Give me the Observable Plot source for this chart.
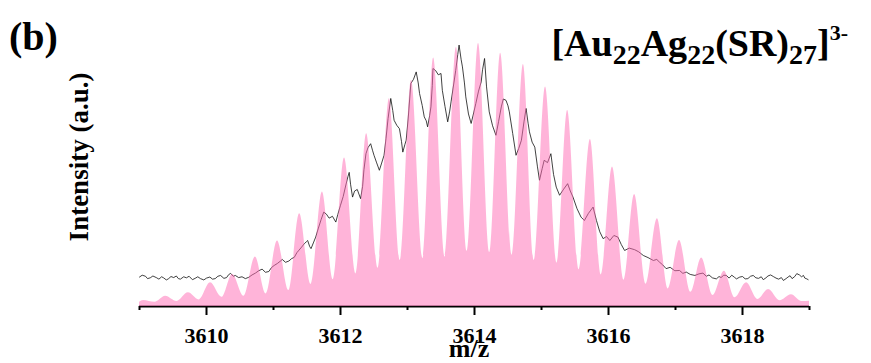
<!DOCTYPE html>
<html><head><meta charset="utf-8">
<script src="https://cdn.jsdelivr.net/npm/d3@7"></script>
<script src="https://cdn.jsdelivr.net/npm/@observablehq/plot@0.6"></script>
<style>
body{margin:0;background:#fff;}
#chart{position:relative;width:871px;height:363px;overflow:hidden;}
</style></head><body><div id="chart"></div>
<script>
// Simulated isotope pattern: peak tops
const peakMz = [3609.06,3609.39,3609.73,3610.06,3610.39,3610.73,3611.06,3611.39,3611.73,3612.06,3612.39,3612.73,3613.06,3613.39,3613.73,3614.06,3614.39,3614.73,3615.06,3615.39,3615.73,3616.06,3616.39,3616.73,3617.06,3617.39,3617.73,3618.06,3618.39,3618.73];
const peakInt = [2.3,3.9,5.2,9.0,12.2,18.8,24.9,35.3,43.5,56.5,65.7,79.0,86.0,94.5,98.5,100,96.3,92.0,83.5,74.5,63.5,53.0,42.6,33.4,25.1,18.4,13.4,9.0,6.5,4.5];
// Simulated isotope pattern: valleys (and ends)
const valleyMz = [3609.00,3609.23,3609.56,3609.89,3610.23,3610.56,3610.89,3611.23,3611.56,3611.89,3612.23,3612.56,3612.89,3613.23,3613.56,3613.89,3614.23,3614.56,3614.89,3615.23,3615.56,3615.89,3616.23,3616.56,3616.89,3617.23,3617.56,3617.89,3618.23,3618.56,3618.89,3619.00];
const valleyInt = [1.6,1.6,1.9,2.5,3.5,3.9,4.8,6.1,8.4,10.2,12.4,14.5,17.5,18.2,18.8,21.0,20.5,19.5,17.5,16.5,14.0,12.0,10.0,8.5,6.7,5.4,4.2,3.3,2.7,2.2,1.9,2.0];
// Experimental spectrum [m/z, intensity]
const expPoints = [
[3609.00,11.2],[3609.04,11.9],[3609.09,11.5],[3609.12,10.6],[3609.16,10.9],[3609.20,11.6],[3609.25,11.0],[3609.29,10.4],[3609.33,11.3],[3609.36,10.9],
[3609.40,10.1],[3609.43,10.5],[3609.47,11.4],[3609.51,11.0],[3609.55,11.6],[3609.58,10.6],[3609.61,10.4],[3609.66,11.3],[3609.70,10.9],[3609.74,11.5],
[3609.79,10.2],[3609.83,10.7],[3609.87,11.3],[3609.91,10.6],[3609.96,10.1],[3610.00,10.8],[3610.05,11.2],[3610.09,10.4],[3610.13,10.6],[3610.17,11.5],
[3610.21,11.8],[3610.26,10.7],[3610.30,11.0],[3610.33,12.1],[3610.36,12.6],[3610.40,11.5],[3610.43,11.8],[3610.48,11.0],[3610.53,11.3],[3610.58,10.6],
[3610.63,11.1],[3610.68,12.0],[3610.73,12.7],[3610.78,13.6],[3610.83,14.2],[3610.88,13.0],[3610.93,13.3],[3610.97,14.8],[3611.01,15.6],[3611.06,16.4],
[3611.10,17.2],[3611.13,17.9],[3611.18,16.8],[3611.23,17.3],[3611.27,18.2],[3611.31,18.7],[3611.35,20.5],[3611.38,21.4],[3611.42,22.6],[3611.46,23.9],
[3611.49,24.6],[3611.51,25.1],[3611.54,22.8],[3611.56,22.0],[3611.60,24.5],[3611.63,26.4],[3611.67,29.8],[3611.71,33.0],[3611.75,35.9],[3611.79,35.1],
[3611.83,33.6],[3611.88,34.3],[3611.93,32.1],[3611.96,35.0],[3612.00,38.5],[3612.04,41.8],[3612.08,46.2],[3612.11,49.3],[3612.13,51.0],[3612.15,46.5],
[3612.18,41.6],[3612.21,43.9],[3612.25,44.5],[3612.28,42.4],[3612.30,41.0],[3612.33,45.7],[3612.35,52.0],[3612.38,58.1],[3612.41,60.4],[3612.45,61.9],
[3612.48,59.2],[3612.50,57.5],[3612.54,54.6],[3612.58,51.8],[3612.61,54.2],[3612.65,57.5],[3612.68,64.0],[3612.71,71.5],[3612.75,79.1],[3612.78,74.5],
[3612.80,70.8],[3612.84,68.9],[3612.88,67.6],[3612.91,62.8],[3612.93,58.7],[3612.96,61.5],[3612.98,63.2],[3613.01,71.3],[3613.05,84.8],[3613.09,86.4],
[3613.13,89.2],[3613.16,85.0],[3613.18,81.0],[3613.22,76.4],[3613.25,72.1],[3613.28,70.6],[3613.30,68.3],[3613.33,72.5],[3613.35,75.9],[3613.37,84.0],
[3613.38,90.5],[3613.42,89.7],[3613.46,88.1],[3613.50,88.6],[3613.52,82.2],[3613.56,76.0],[3613.60,70.2],[3613.63,74.3],[3613.65,77.8],[3613.69,84.6],
[3613.72,89.8],[3613.75,95.8],[3613.77,99.4],[3613.80,94.0],[3613.82,91.1],[3613.85,85.0],[3613.87,79.7],[3613.91,73.2],[3613.95,69.6],[3613.98,72.8],
[3614.02,77.2],[3614.06,81.9],[3614.10,85.4],[3614.12,90.0],[3614.15,94.3],[3614.18,83.5],[3614.22,74.0],[3614.27,68.7],[3614.32,65.1],[3614.36,70.4],
[3614.40,75.9],[3614.43,78.9],[3614.47,78.4],[3614.50,76.3],[3614.52,74.0],[3614.57,65.8],[3614.62,57.5],[3614.66,60.1],[3614.70,63.2],[3614.74,70.5],
[3614.77,75.3],[3614.80,69.7],[3614.82,66.4],[3614.86,62.5],[3614.90,60.6],[3614.94,53.1],[3614.97,48.0],[3615.01,52.4],[3615.04,55.6],[3615.09,54.7],
[3615.14,58.1],[3615.18,50.2],[3615.22,45.4],[3615.27,42.3],[3615.33,44.6],[3615.39,46.7],[3615.43,43.9],[3615.47,41.6],[3615.53,37.2],[3615.59,34.0],
[3615.64,32.7],[3615.70,35.4],[3615.77,37.8],[3615.82,32.7],[3615.87,28.4],[3615.92,25.8],[3615.97,26.6],[3616.02,25.1],[3616.08,27.0],[3616.14,26.4],
[3616.19,23.6],[3616.24,21.3],[3616.31,22.2],[3616.39,21.6],[3616.45,20.8],[3616.52,19.4],[3616.59,18.6],[3616.67,17.5],[3616.72,17.9],[3616.76,16.9],
[3616.81,15.8],[3616.86,14.4],[3616.92,14.9],[3616.99,13.6],[3617.06,13.7],[3617.11,12.6],[3617.16,13.1],[3617.22,12.2],[3617.29,11.8],[3617.35,12.4],
[3617.41,12.7],[3617.46,11.5],[3617.50,12.0],[3617.55,10.9],[3617.61,10.5],[3617.65,11.4],[3617.68,11.0],[3617.72,11.9],[3617.76,11.8],[3617.80,10.8],
[3617.84,11.9],[3617.88,11.1],[3617.91,10.5],[3617.96,11.2],[3618.00,11.4],[3618.04,10.5],[3618.08,10.6],[3618.12,11.5],[3618.16,11.8],[3618.20,10.9],
[3618.24,10.7],[3618.28,11.3],[3618.31,10.2],[3618.35,10.9],[3618.38,11.6],[3618.42,12.0],[3618.46,11.4],[3618.50,10.8],[3618.54,10.4],[3618.58,11.0],
[3618.61,9.9],[3618.65,10.6],[3618.68,11.2],[3618.71,11.7],[3618.74,10.6],[3618.78,11.4],[3618.81,12.5],[3618.85,12.0],[3618.88,11.3],[3618.91,11.8],
[3618.93,10.8],[3618.96,10.5],[3618.98,10.2]
];
// Axis ticks
const majorTicks = [3610,3612,3614,3616,3618];
const minorTicks = [3609,3611,3613,3615,3617,3619];
const xLabel = "m/z";
const yLabel = "Intensity (a.u.)";
const panelLabel = "(b)";

const sim = peakMz.map((m,i)=>({mz:m,I:peakInt[i]}))
  .concat(valleyMz.map((m,i)=>({mz:m,I:valleyInt[i]})))
  .sort((a,b)=>a.mz-b.mz);
const exp = expPoints.map(([m,I])=>({mz:m,I}));

const serif = "'Liberation Serif','Times New Roman',serif";
const plot = Plot.plot({
  width: 871, height: 363,
  marginLeft: 139, marginRight: 62, marginTop: 43, marginBottom: 57,
  x: {domain: [3609, 3619], label: null},
  y: {domain: [0, 100], axis: null, label: null},
  style: {fontFamily: serif, fontWeight: "bold", color: "#000", background: "#fff"},
  marks: [
    Plot.ruleY([0], {stroke: "#000", strokeWidth: 2}),
    Plot.line(exp, {x: "mz", y: "I", stroke: "#111", strokeWidth: 0.8}),
    Plot.areaY(sim, {x: "mz", y: "I", fill: "#ff69b4", fillOpacity: 0.5, curve: "monotone-x"}),
    Plot.axisX({ticks: minorTicks, tickSize: 4, tickFormat: () => "", strokeWidth: 2, label: null}),
    Plot.axisX({ticks: majorTicks, tickSize: 9, tickPadding: 12, tickFormat: d => String(d), strokeWidth: 2, fontSize: 22, label: null})
  ]
});
document.getElementById("chart").appendChild(plot);

const svg = d3.select(plot);
const g = svg.append("g").attr("font-family", serif).attr("font-weight", "bold").attr("fill", "#000").attr("text-anchor", "start");
g.append("text").attr("x", 9).attr("y", 50).attr("text-anchor", "start").attr("font-size", 40).text(panelLabel);
g.append("text").attr("transform", "translate(88,157) rotate(-90)").attr("text-anchor", "middle").attr("font-size", 27).text(yLabel);
g.append("text").attr("x", 469).attr("y", 357).attr("text-anchor", "middle").attr("font-size", 26).text(xLabel);

const title = g.append("text").attr("x", 848).attr("y", 56).attr("text-anchor", "end").attr("font-size", 38);
const parts = [["[Au",0,38],["22",8,28],["Ag",-8,38],["22",8,28],["(SR)",-8,38],["27",8,28],["]",-8,38],["3-",-16,22]];
parts.forEach(([t,dy,fs]) => title.append("tspan").attr("dy", dy).attr("font-size", fs).text(t));
</script></body></html>
